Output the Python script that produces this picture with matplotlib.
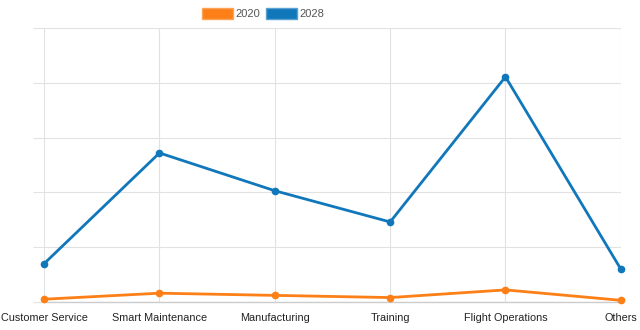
import matplotlib.pyplot as plt
from matplotlib.patches import Patch

categories = ['Customer Service', 'Smart Maintenance', 'Manufacturing',
              'Training', 'Flight Operations', 'Others']
values_2020 = [0.5, 1.6, 1.2, 0.8, 2.2, 0.3]
values_2028 = [7.0, 27.2, 20.3, 14.6, 41.1, 6.0]

orange = '#fd7f17'
blue = '#1177bb'

plt.rcParams['font.family'] = ['Liberation Sans', 'DejaVu Sans']

fig = plt.figure(figsize=(6.4, 3.3), dpi=100)
ax = fig.add_axes([0.069, 0.085, 0.901, 0.83])

x = range(len(categories))
ax.plot(x, values_2020, color=orange, lw=2, marker='o', ms=4.5, zorder=3, clip_on=False)
ax.plot(x, values_2028, color=blue, lw=2, marker='o', ms=4.5, zorder=3, clip_on=False)

ax.set_xlim(0, len(categories) - 1)
ax.set_ylim(0, 50)
ax.set_yticks(range(0, 51, 10))
ax.set_yticklabels([])
ax.set_xticks(list(x))
ax.set_xticklabels(categories, fontsize=7.8, color='#222222')

ax.grid(True, color='#e2e2e2', lw=0.8, zorder=0)
for s in ['top', 'right', 'left']:
    ax.spines[s].set_visible(False)
ax.spines['bottom'].set_color('#cccccc')
ax.spines['bottom'].set_linewidth(1)
ax.tick_params(axis='y', length=8, color='#e2e2e2', width=0.8)
ax.tick_params(axis='x', length=0, pad=8)

handles = [Patch(facecolor=orange, edgecolor='#fca55a', label='2020'),
           Patch(facecolor=blue, edgecolor='#5aa0d0', label='2028')]
fig.legend(handles=handles, loc='center', bbox_to_anchor=(0.411, 0.958), ncol=2,
           frameon=False, fontsize=8, handlelength=2.8, handleheight=1.1,
           handletextpad=0.25, columnspacing=0.5, labelcolor='#555555')

fig.savefig('out.png', dpi=100)
